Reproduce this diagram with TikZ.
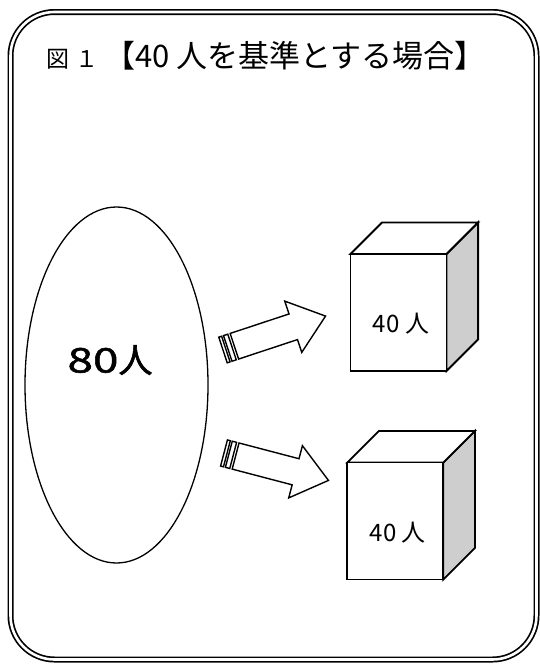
\documentclass[tikz,border=0pt]{standalone}
\usepackage{fontspec}
\newfontfamily\jp{Noto Sans CJK JP}
\newfontfamily\jpbold[FakeBold=1.6]{Noto Sans CJK JP}
\newfontfamily\jpwide[FakeBold=1.6, FakeStretch=1.35]{Noto Sans CJK JP}
\usetikzlibrary{shapes.geometric}
\definecolor{sidegray}{RGB}{206,206,206}
\begin{document}
\begin{tikzpicture}[x=1pt,y=-1pt,
  frame/.style={draw, line width=1.7pt, double, double distance=2.6pt, rounded corners=44pt},
  cubeline/.style={draw, line width=1.8pt, line join=miter},
  arrowline/.style={draw, line width=1.4pt, fill=white, line join=miter},
  boxtext/.style={inner sep=0pt, font=\jp\fontsize{24pt}{24pt}\selectfont},
  pics/boxcube/.style={code={
    \draw[cubeline, fill=sidegray] (96,0) -- (127.6,-31.6) -- (127.6,85.4) -- (96,117) -- cycle;
    \draw[cubeline, fill=white] (0,0) -- (31.6,-31.6) -- (127.6,-31.6) -- (96,0) -- cycle;
    \draw[cubeline, fill=white] (0,0) rectangle (96,117);
    \node[boxtext] (-txt) at (50.5,70) {40 人};
  }}
]
\useasboundingbox (0,0) rectangle (540,664);
% frame
\draw[frame] (10.5,12) rectangle (536.5,659.5);
% title
\node[anchor=base west, inner sep=0pt, font=\jp] (title) at (46,67)
  {{\fontsize{23pt}{23pt}\selectfont 図\hspace{6pt}１}\hspace{6pt}{\fontsize{31pt}{31pt}\selectfont 【40 人を基準とする場合】}};
% ellipse
\node[ellipse, draw, line width=1.3pt, minimum width=183pt, minimum height=356pt, inner sep=0pt] (pool) at (116.5,385) {};
\node[inner sep=0pt, font=\fontsize{34pt}{34pt}\selectfont] (pooltxt) at (110,360) {{\jpwide 80}{\jpbold 人}};
% upper arrow
\begin{scope}[shift={(223,350)}, rotate=18.3]
  \draw[arrowline] (0,-13.5) rectangle (3,13.5);
  \draw[arrowline] (5,-13.5) rectangle (9.5,13.5);
  \draw[arrowline] (12,-13.5) -- (74,-13.5) -- (74,-27) -- (108,0) -- (74,27) -- (74,13.5) -- (12,13.5) -- cycle;
\end{scope}
% lower arrow
\begin{scope}[shift={(224,453)}, rotate=-14.7]
  \draw[arrowline] (0,-13.5) rectangle (3,13.5);
  \draw[arrowline] (5,-13.5) rectangle (9.5,13.5);
  \draw[arrowline] (12,-13.5) -- (74,-13.5) -- (74,-27) -- (108,0) -- (74,27) -- (74,13.5) -- (12,13.5) -- cycle;
\end{scope}
% cubes
\pic (c1) at (350.5,254) {boxcube};
\pic (c2) at (347.3,462.5) {boxcube};
\end{tikzpicture}
\end{document}
